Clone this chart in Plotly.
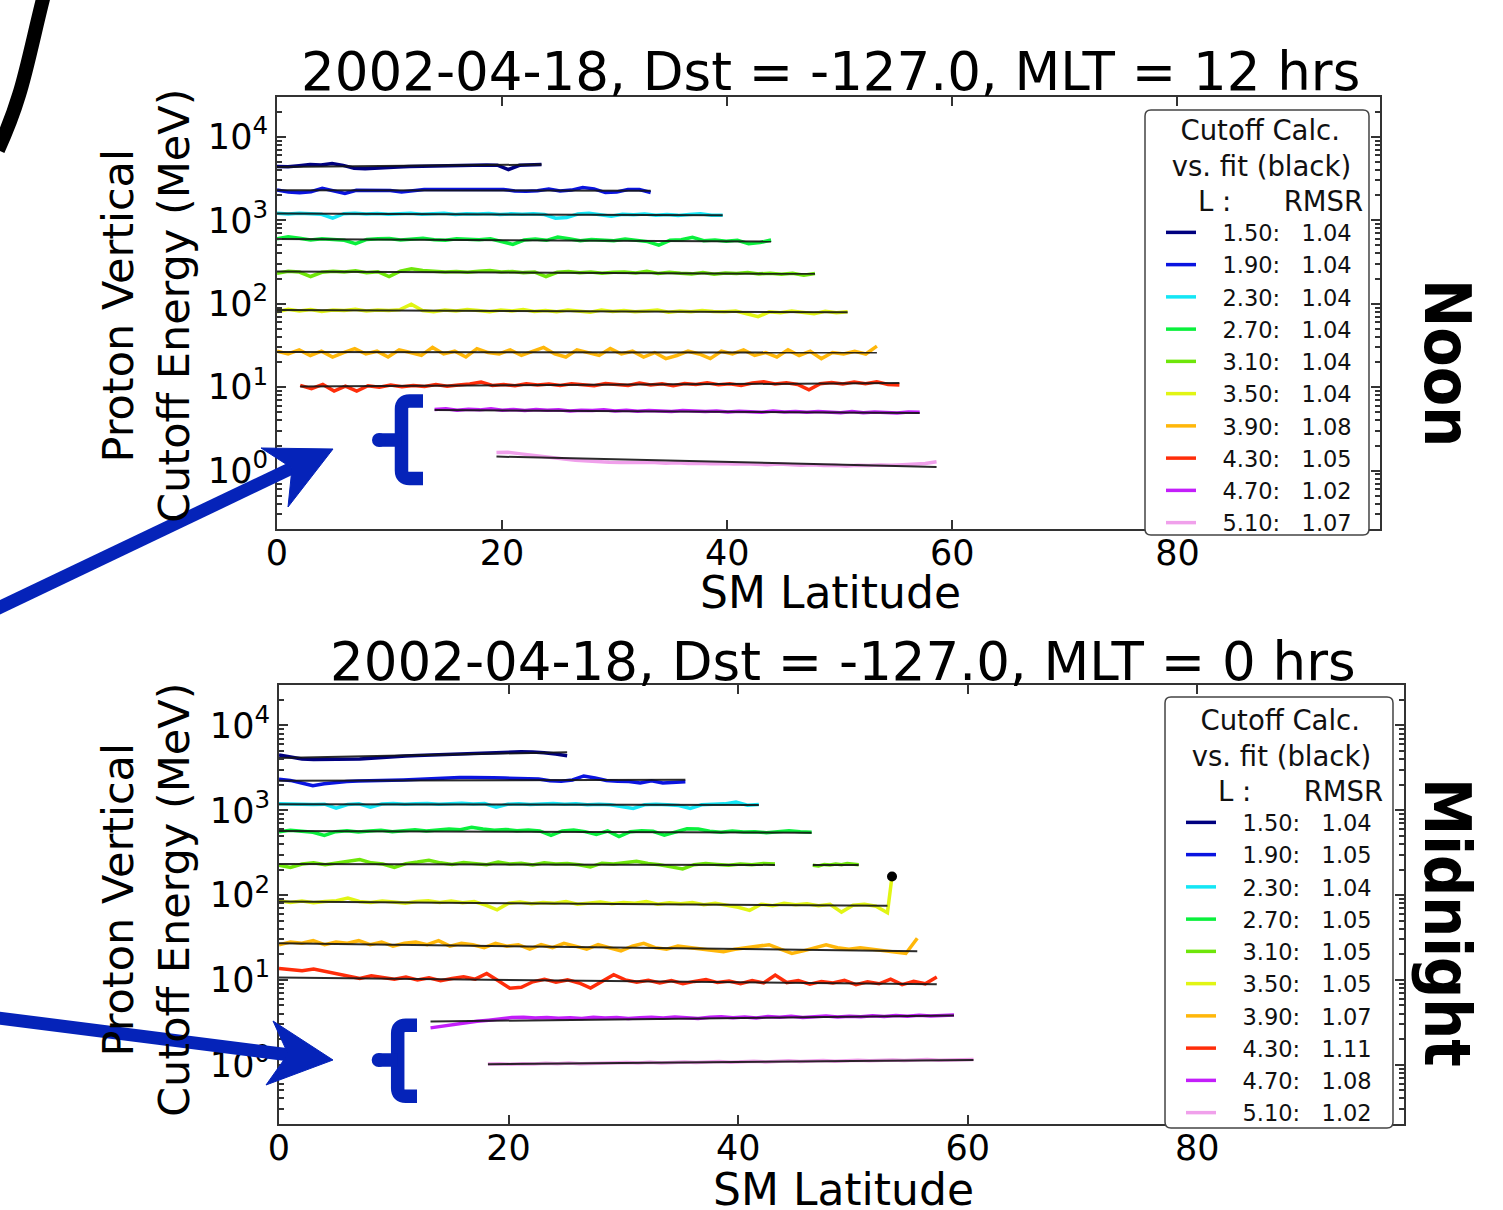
import numpy as np
import plotly.graph_objects as go

W, H = 1503, 1210

# ---------------- data ----------------
L_VALUES = [1.5, 1.9, 2.3, 2.7, 3.1, 3.5, 3.9, 4.3, 4.7, 5.1]
COLORS = ["#00007f", "#0a14e0", "#14e6f5", "#0af03c", "#6ee60a",
          "#e1f514", "#ffb70a", "#ff2d0a", "#c31efa", "#f0a0eb"]
NOON_RMSR = [1.04, 1.04, 1.04, 1.04, 1.04, 1.04, 1.08, 1.05, 1.02, 1.07]
MID_RMSR = [1.04, 1.05, 1.04, 1.05, 1.05, 1.05, 1.07, 1.11, 1.08, 1.02]

# Noon (MLT = 12)
NOON_LAT_START = [0, 0, 0, 0, 0, 0, 0, 2.06, 14.0, 19.5]
NOON_LAT_END = [23.5, 33.2, 39.6, 43.9, 47.8, 50.7, 53.3, 55.3, 57.1, 58.6]
NOON_FIT_START = [4350, 2290, 1205, 597, 243, 84, 26.4, 10.2, 5.34, 1.475]
NOON_FIT_END = [4650, 2260, 1150, 558, 228, 79, 26.0, 11.2, 4.9, 1.11]

NOON_L150 = [4400, 4380, 4500, 4650, 4600, 4800, 4550, 4200, 4150, 4250, 4330, 4350, 4400,
             4430, 4470, 4520, 4570, 4600, 4620, 4600, 4580, 4050, 4550, 4600, 4650]
NOON_L190 = [2300, 2180, 2140, 2200, 2420, 2250, 2100, 2290, 2300, 2290, 2270, 2180, 2280,
             2330, 2340, 2330, 2340, 2320, 2310, 2330, 2340, 2250, 2220, 2260, 2370, 2250,
             2300, 2470, 2380, 2150, 2180, 2330, 2340, 2150]
NOON_L230 = [1210, 1190, 1215, 1200, 1180, 1060, 1200, 1215, 1190, 1205, 1185, 1200, 1210,
             1180, 1195, 1210, 1175, 1200, 1190, 1205, 1170, 1195, 1185, 1200, 1170, 1060,
             1080, 1190, 1210, 1175, 1120, 1180, 1165, 1190, 1150, 1170, 1145, 1175, 1200,
             1150, 1150]
NOON_L270 = [600, 635, 610, 580, 600, 590, 575, 525, 590, 600, 605, 580, 595, 610, 585, 575,
             600, 590, 585, 600, 560, 515, 580, 595, 575, 630, 600, 570, 590, 580, 570, 595,
             575, 555, 505, 575, 585, 625, 570, 580, 560, 575, 525, 540, 580]
NOON_L310 = [232, 245, 240, 212, 238, 245, 240, 248, 236, 242, 212, 245, 262, 250, 245, 240,
             243, 238, 245, 250, 240, 244, 236, 240, 212, 238, 244, 235, 240, 232, 238, 240,
             234, 245, 230, 238, 232, 228, 236, 226, 233, 230, 236, 228, 232, 225, 232, 220,
             230]
NOON_L350 = [80, 86, 82, 85, 81, 84, 83, 86, 82, 84, 83, 85, 99, 83, 80, 84, 82, 85, 83, 80,
             84, 82, 85, 81, 83, 80, 84, 82, 79, 84, 81, 83, 80, 82, 84, 79, 82, 80, 83, 81,
             80, 82, 76, 70, 80, 78, 82, 79, 76, 81, 78, 80]
NOON_L390 = [27, 25, 28, 24, 27, 23, 26, 29, 25, 27, 23, 28, 26, 24, 30, 25, 27, 23, 29, 26,
             25, 28, 24, 27, 30, 25, 23, 28, 26, 24, 29, 25, 27, 23, 26, 22, 24, 27, 25, 22,
             27, 25, 28, 24, 26, 23, 28, 24, 27, 22, 26, 25, 27, 25, 31]
NOON_L430 = [10.5, 9.6, 10.8, 9.0, 10.3, 9.0, 10.4, 10.0, 10.6, 10.1, 10.5, 10.2, 10.8, 10.3,
             10.6, 10.9, 11.5, 10.5, 10.8, 10.4, 11.0, 10.6, 10.9, 10.5, 11.0, 10.7, 10.4,
             11.1, 10.8, 10.5, 11.2, 10.6, 11.0, 10.4, 11.1, 10.8, 11.3, 10.7, 11.0, 10.5,
             11.2, 11.6, 10.9, 11.3, 10.8, 9.3, 11.0, 11.4, 10.9, 11.5, 11.0, 11.6, 10.8, 10.6]
NOON_L470 = [5.4, 5.5, 5.3, 5.45, 5.35, 5.5, 5.3, 5.4, 5.25, 5.4, 5.3, 5.35, 5.2, 5.3, 5.25,
             5.35, 5.2, 5.3, 5.15, 5.25, 5.2, 5.1, 5.25, 5.15, 5.1, 5.2, 5.05, 5.15, 5.1, 5.0,
             5.2, 5.05, 5.1, 5.0, 5.1, 5.0, 4.95, 5.1, 4.95, 5.05, 4.95, 4.9, 5.05, 5.0]
NOON_L510 = [1.65, 1.66, 1.6, 1.55, 1.5, 1.44, 1.38, 1.33, 1.3, 1.27, 1.26, 1.25, 1.26, 1.24,
             1.25, 1.23, 1.24, 1.22, 1.23, 1.21, 1.22, 1.2, 1.21, 1.19, 1.18, 1.2, 1.17, 1.16,
             1.18, 1.15, 1.16, 1.14, 1.16, 1.15, 1.17, 1.16, 1.18, 1.2, 1.22, 1.28]
NOON_SERIES = [NOON_L150, NOON_L190, NOON_L230, NOON_L270, NOON_L310,
               NOON_L350, NOON_L390, NOON_L430, NOON_L470, NOON_L510]

# Midnight (MLT = 0)
MID_LAT_START = [0, 0, 0, 0, 0, 0, 0, 0, 13.2, 18.2]
MID_LAT_END = [25.1, 35.4, 41.8, 46.4, 43.2, 53.0, 55.6, 57.3, 58.8, 60.5]
MID_FIT_START = [4140, 2228, 1178, 568, 233, 84, 27, 10.65, 3.23, 1.016]
MID_FIT_END = [4835, 2287, 1156, 544, 227, 74.7, 21.8, 8.87, 3.80, 1.14]

MID_L150 = [4490, 4200, 4020, 3960, 3960, 3990, 4010, 4030, 4120, 4230, 4300, 4370, 4420,
            4480, 4540, 4600, 4650, 4700, 4760, 4820, 4880, 4900, 4850, 4780, 4600, 4400]
MID_L190 = [2330, 2250, 2100, 1950, 2050, 2130, 2180, 2220, 2250, 2230, 2260, 2280, 2320,
            2350, 2380, 2420, 2440, 2430, 2450, 2420, 2400, 2380, 2310, 2330, 2230, 2200,
            2280, 2540, 2400, 2240, 2200, 2180, 2100, 2230, 2100, 2150, 2170]
MID_L230 = [1190, 1175, 1185, 1170, 1180, 1060, 1170, 1190, 1090, 1185, 1200, 1175, 1190,
            1205, 1180, 1195, 1210, 1185, 1200, 1090, 1180, 1195, 1170, 1185, 1200, 1175,
            1190, 1165, 1180, 1160, 1100, 1050, 1160, 1180, 1165, 1140, 1050, 1160, 1175,
            1190, 1250, 1150, 1170]
MID_L270 = [560, 580, 565, 550, 505, 560, 575, 555, 570, 580, 560, 575, 590, 570, 585, 600,
            590, 630, 600, 580, 595, 575, 585, 570, 505, 570, 585, 560, 520, 570, 490, 560,
            575, 565, 510, 560, 605, 600, 565, 550, 570, 555, 560, 545, 565, 575, 560, 550]
MID_L310 = [225, 212, 232, 240, 228, 238, 250, 262, 240, 232, 212, 235, 245, 258, 240, 230,
            242, 236, 228, 245, 232, 238, 226, 240, 232, 235, 228, 215, 238, 232, 240, 250,
            236, 228, 215, 203, 228, 236, 230, 225, 233, 228, 236, 232]
MID_L310_B_LAT = [46.5, 50.5]
MID_L310_B = [225, 220, 230, 226, 232, 228, 236, 230, 228]
MID_L310_B_FIT = [227, 227]
MID_L350 = [86, 82, 85, 81, 84, 86, 92, 84, 82, 85, 83, 80, 84, 86, 82, 85, 81, 84, 76, 67,
            80, 83, 79, 82, 80, 84, 78, 81, 83, 79, 82, 80, 84, 78, 81, 79, 82, 77, 80, 76,
            72, 66, 78, 75, 80, 77, 79, 75, 78, 63, 76, 78, 74, 62]
MID_L350_END_LAT = 53.4
MID_L350_END_VAL = 166
MID_L390 = [26, 28, 27, 29, 26, 28, 27, 29, 26, 28, 25, 27, 28, 26, 29, 25, 27, 26, 24, 27,
            25, 26, 23, 26, 24, 27, 25, 23, 26, 24, 22, 25, 27, 24, 23, 25, 24, 23, 22, 21.5,
            23, 24, 25, 26, 23, 20.5, 22, 24, 26, 24, 23, 24, 23, 22, 21.5, 20.5, 31]
MID_L430 = [13.6, 13.2, 12.8, 13.4, 12.6, 11.8, 11.0, 10.4, 11.2, 10.6, 10.2, 10.8, 10.0,
            10.6, 9.8, 10.4, 10.9, 10.2, 11.9, 9.8, 8.0, 8.2, 9.5, 10.2, 9.4, 10.0, 9.2, 8.0,
            9.6, 11.5, 10.0, 9.4, 9.9, 9.2, 9.8, 9.0, 9.6, 10.1, 9.3, 9.7, 9.0, 9.8, 9.2,
            11.4, 9.3, 9.8, 8.9, 9.6, 9.2, 9.9, 8.8, 9.5, 9.0, 10.2, 8.8, 9.6, 9.0, 10.8]
MID_L470 = [2.72, 2.85, 3.0, 3.12, 3.25, 3.35, 3.45, 3.6, 3.62, 3.55, 3.6, 3.52, 3.58, 3.5,
            3.62, 3.55, 3.6, 3.5, 3.58, 3.62, 3.55, 3.65, 3.58, 3.5, 3.62, 3.68, 3.58, 3.65,
            3.55, 3.7, 3.62, 3.72, 3.6, 3.68, 3.75, 3.65, 3.72, 3.68, 3.78, 3.7, 3.8, 3.72,
            3.82, 3.75, 3.8, 3.85]
MID_L510 = [1.02, 1.03, 1.01, 1.03, 1.02, 1.04, 1.03, 1.05, 1.03, 1.04, 1.05, 1.04, 1.06,
            1.05, 1.07, 1.05, 1.06, 1.08, 1.06, 1.07, 1.09, 1.07, 1.08, 1.10, 1.08, 1.09,
            1.11, 1.09, 1.10, 1.12, 1.10, 1.11, 1.13, 1.11, 1.12, 1.14, 1.12, 1.13, 1.15,
            1.13, 1.14, 1.13, 1.15]
MID_SERIES = [MID_L150, MID_L190, MID_L230, MID_L270, MID_L310,
              MID_L350, MID_L390, MID_L430, MID_L470, MID_L510]

X_TICKS = [0, 20, 40, 60, 80]
Y_TICKS = [1, 10, 100, 1000, 10000]
Y_TICKTEXT = ["10<sup>0</sup>", "10<sup>1</sup>", "10<sup>2</sup>", "10<sup>3</sup>", "10<sup>4</sup>"]
X_RANGE = [0, 98]
Y_RANGE = [0.2, 30000]

TITLE_NOON = "2002-04-18, Dst = -127.0, MLT = 12 hrs"
TITLE_MID = "2002-04-18, Dst = -127.0, MLT = 0 hrs"

# ---------------- figure ----------------
FONT = "DejaVu Sans"
NB = "\u00a0"
fig = go.Figure()


def add_panel(series, lat0, lat1, fit0, fit1, rmsr, xa, ya, leg):
    for i, L in enumerate(L_VALUES):
        vals = list(series[i])
        lats = list(np.linspace(lat0[i], lat1[i], len(vals)))
        if leg == "legend2" and L == 3.1:
            lb = MID_L310_B
            lats += [None] + list(np.linspace(MID_L310_B_LAT[0], MID_L310_B_LAT[1], len(lb)))
            vals += [None] + lb
        if leg == "legend2" and L == 3.5:
            lats.append(MID_L350_END_LAT)
            vals.append(MID_L350_END_VAL)
        name = f"{NB*3}{L:.2f}:{NB*3}{rmsr[i]:.2f}"
        fig.add_trace(go.Scatter(x=lats, y=vals, mode="lines", name=name,
                                 line=dict(color=COLORS[i], width=3.5),
                                 xaxis=xa, yaxis=ya, legend=leg, connectgaps=False))
    for i, L in enumerate(L_VALUES):
        fx = [lat0[i], lat1[i]]
        fy = [fit0[i], fit1[i]]
        if leg == "legend2" and L == 3.1:
            fx += [None] + MID_L310_B_LAT
            fy += [None] + MID_L310_B_FIT
        fig.add_trace(go.Scatter(x=fx, y=fy, mode="lines", showlegend=False,
                                 line=dict(color="rgba(20,20,20,0.9)", width=2),
                                 xaxis=xa, yaxis=ya, connectgaps=False, hoverinfo="skip"))


add_panel(NOON_SERIES, NOON_LAT_START, NOON_LAT_END, NOON_FIT_START, NOON_FIT_END,
          NOON_RMSR, "x", "y", "legend")
add_panel(MID_SERIES, MID_LAT_START, MID_LAT_END, MID_FIT_START, MID_FIT_END,
          MID_RMSR, "x2", "y2", "legend2")
fig.add_trace(go.Scatter(x=[MID_L350_END_LAT], y=[MID_L350_END_VAL], mode="markers",
                         marker=dict(color="black", size=10), showlegend=False,
                         xaxis="x2", yaxis="y2"))

minor_vals = []
for d in [0.1, 1, 10, 100, 1000, 10000]:
    for m in range(2, 10):
        minor_vals.append(m * d)

axis_common = dict(showline=True, linecolor="#333", linewidth=2, mirror="allticks",
                   ticks="inside", ticklen=9, tickwidth=1.5, tickcolor="#333",
                   showgrid=False, zeroline=False, automargin=False,
                   tickfont=dict(family=FONT, size=35, color="black"))
xcommon = dict(axis_common, range=X_RANGE, tickvals=X_TICKS, ticklabelstandoff=-8)
ycommon = dict(axis_common, type="log", range=[np.log10(Y_RANGE[0]), np.log10(Y_RANGE[1])],
               tickvals=Y_TICKS, ticktext=Y_TICKTEXT,
               minor=dict(tickvals=minor_vals, ticks="inside", ticklen=5,
                          tickcolor="#333", showgrid=False))

LEG_TITLE = (f"{NB*2}Cutoff Calc.<br>{NB}vs. fit (black)<br>"
             f"{NB*4}L{NB}:{NB*6}RMSR")
legend_common = dict(xanchor="left", yanchor="top", bgcolor="rgba(0,0,0,0)",
                     borderwidth=0, font=dict(family=FONT, size=22.5, color="#111"),
                     title=dict(text=LEG_TITLE, side="top",
                                font=dict(family=FONT, size=27.5, color="#111")),
                     itemwidth=30, tracegroupgap=0)

fig.update_layout(
    width=W, height=H, margin=dict(l=0, r=0, t=0, b=0),
    paper_bgcolor="white", plot_bgcolor="white",
    font=dict(family=FONT, color="black"),
    xaxis=dict(xcommon, domain=[277 / W, 1380 / W], anchor="y"),
    yaxis=dict(ycommon, domain=[1 - 529 / H, 1 - 97 / H], anchor="x"),
    xaxis2=dict(xcommon, domain=[279 / W, 1404 / W], anchor="y2"),
    yaxis2=dict(ycommon, domain=[1 - 1124 / H, 1 - 685 / H], anchor="x2"),
    legend=dict(legend_common, x=1161 / W, y=1 - 104 / H),
    legend2=dict(legend_common, x=1181 / W, y=1 - 694 / H),
    showlegend=True,
)


def ann(text, x, y, size, angle=0, bold=False):
    fig.add_annotation(text=f"<b>{text}</b>" if bold else text, x=x / W, y=1 - y / H,
                       xref="paper", yref="paper", showarrow=False, textangle=angle,
                       xanchor="center", yanchor="middle",
                       font=dict(family=FONT if not bold else "DejaVu Sans Condensed, DejaVu Sans",
                                 size=size, color="black"))


ann(TITLE_NOON, 830, 72, 53)
ann(TITLE_MID, 843, 661, 53)
ann("SM Latitude", 830, 592, 44)
ann("SM Latitude", 843, 1189, 44)
ann("Proton Vertical<br>Cutoff Energy (MeV)", 146, 306, 43, angle=-90)
ann("Proton Vertical<br>Cutoff Energy (MeV)", 146, 900, 43, angle=-90)
ann("Noon", 1447, 363, 64, angle=90, bold=True)
ann("Midnight", 1447, 922, 64, angle=90, bold=True)


# ---------------- decorations (pixel -> paper) ----------------
def p(x, y):
    return f"{x / W:.5f},{1 - y / H:.5f}"


BLUE = "#0523b9"
shapes = []


def rounded_box(x0, y0, x1, y1, r=6):
    shapes.append(dict(type="path", xref="paper", yref="paper", layer="above",
                       path=(f"M {p(x0+r,y0)} L {p(x1-r,y0)} Q {p(x1,y0)} {p(x1,y0+r)} "
                             f"L {p(x1,y1-r)} Q {p(x1,y1)} {p(x1-r,y1)} L {p(x0+r,y1)} "
                             f"Q {p(x0,y1)} {p(x0,y1-r)} L {p(x0,y0+r)} Q {p(x0,y0)} {p(x0+r,y0)} Z"),
                       line=dict(color="#444", width=1.5), fillcolor="white"))


# legend frames (matplotlib fancy box)
rounded_box(1145, 110, 1369, 535)
rounded_box(1165, 697, 1393, 1128)

# big black stroke top-left
shapes.append(dict(type="path", xref="paper", yref="paper",
                   path=f"M {p(44,-5)} C {p(35,30)} {p(27,70)} {p(19,95)} C {p(13,115)} {p(7,130)} {p(-2,150)}",
                   line=dict(color="black", width=14), fillcolor="rgba(0,0,0,0)"))
# arrows
shapes.append(dict(type="path", xref="paper", yref="paper",
                   path=f"M {p(-10,612)} L {p(292,468)}", line=dict(color=BLUE, width=13)))
shapes.append(dict(type="path", xref="paper", yref="paper",
                   path=f"M {p(333,449)} L {p(261,448)} L {p(292,468)} L {p(288,507)} Z",
                   line=dict(color=BLUE, width=1), fillcolor=BLUE))
shapes.append(dict(type="path", xref="paper", yref="paper",
                   path=f"M {p(-10,1017)} L {p(290,1055)}", line=dict(color=BLUE, width=13)))
shapes.append(dict(type="path", xref="paper", yref="paper",
                   path=f"M {p(333,1060)} L {p(273,1021)} L {p(288,1054)} L {p(266,1085)} Z",
                   line=dict(color=BLUE, width=1), fillcolor=BLUE))


def brace(xb, yt, yb, xr, yn, xn):
    shapes.append(dict(type="path", xref="paper", yref="paper",
                       path=(f"M {p(xr,yt)} L {p(xb+8,yt)} Q {p(xb,yt)} {p(xb,yt+8)} "
                             f"L {p(xb,yb-8)} Q {p(xb,yb)} {p(xb+8,yb)} L {p(xr,yb)}"),
                       line=dict(color=BLUE, width=13.5), fillcolor="rgba(0,0,0,0)"))
    shapes.append(dict(type="path", xref="paper", yref="paper",
                       path=f"M {p(xn,yn)} L {p(xb,yn)}", line=dict(color=BLUE, width=13.5)))
    shapes.append(dict(type="circle", xref="paper", yref="paper",
                       x0=(xn - 7) / W, x1=(xn + 7) / W, y0=1 - (yn + 7) / H, y1=1 - (yn - 7) / H,
                       line=dict(width=0), fillcolor=BLUE))


brace(401.5, 401, 478.5, 423, 440, 379)
brace(397.7, 1025.3, 1096.3, 417, 1060, 378.7)

fig.update_layout(shapes=shapes)
fig.write_html("out.html")
